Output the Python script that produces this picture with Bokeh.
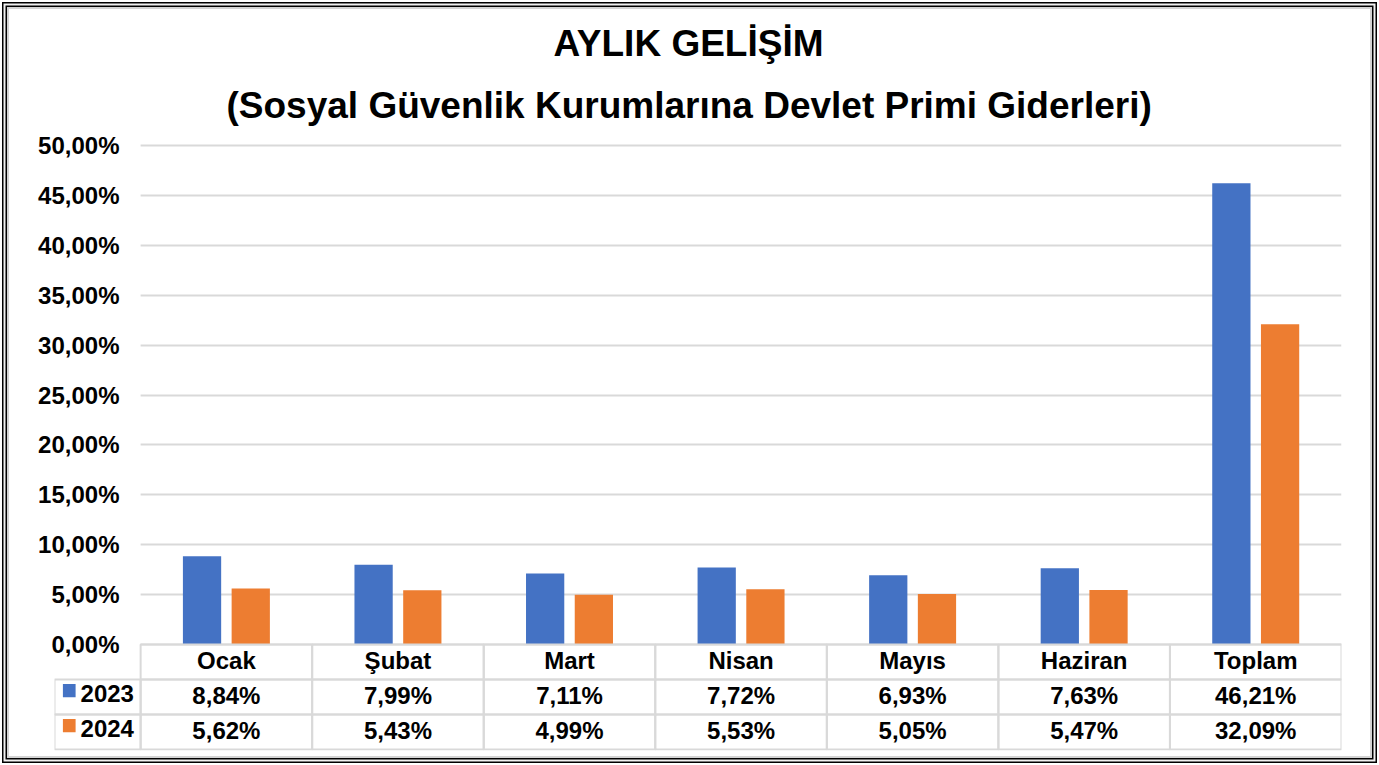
from bokeh.plotting import figure
from bokeh.models import ColumnDataSource, Range1d, FixedTicker, Title
from bokeh.core.properties import value
from bokeh.embed import file_html
from bokeh.resources import INLINE

# ---------------- data ----------------
categories = ["Ocak", "Şubat", "Mart", "Nisan", "Mayıs", "Haziran", "Toplam"]
series_names = ["2023", "2024"]
values_2023 = [8.84, 7.99, 7.11, 7.72, 6.93, 7.63, 46.21]
values_2024 = [5.62, 5.43, 4.99, 5.53, 5.05, 5.47, 32.09]
y_ticks = [0, 5, 10, 15, 20, 25, 30, 35, 40, 45, 50]
y_tick_labels = ["0,00%", "5,00%", "10,00%", "15,00%", "20,00%", "25,00%",
                 "30,00%", "35,00%", "40,00%", "45,00%", "50,00%"]
title_lines = ["AYLIK GELİŞİM", "(Sosyal Güvenlik Kurumlarına Devlet Primi Giderleri)"]

# ---------------- style ----------------
BLUE = "#4472C4"
ORANGE = "#ED7D31"
GRID = "#d9d9d9"
FONT = "Liberation Sans"
ROW_H = 3.507      # table row height in axis units (35 px)
LEG_W = 0.502      # width of the legend column (in category units)
OFF = 0.142        # bar offset from category centre
BAR_W = 0.223


def fmt(v):
    return f"{v:.2f}".replace(".", ",") + "%"


n = len(categories)
centers = [i + 0.5 for i in range(n)]          # category centres on the x scale
src = ColumnDataSource(dict(
    x23=[c - OFF for c in centers], x24=[c + OFF for c in centers],
    v2023=values_2023, v2024=values_2024))

p = figure(width=1379, height=765, x_range=Range1d(-LEG_W, n), y_range=Range1d(-10.62, 50.2),
           output_backend="svg", toolbar_location=None, title=None,
           min_border_left=54, min_border_right=38, min_border_top=143, min_border_bottom=15)
p.outline_line_color = None
p.background_fill_color = "white"
p.border_fill_color = None
p.styles = {"background-color": "white",
            "box-shadow": ("inset 0 0 0 2px #fff, inset 0 0 0 3.5px #000, "
                           "inset 0 0 0 5.5px #f0f0f0, inset 0 0 0 7px #000, "
                           "inset 0 0 0 9px #d4d4d4")}

# title: two lines (the Title added last sits on top)
p.add_layout(Title(text=title_lines[1], align="left", offset=172, standoff=35,
                   text_font=FONT, text_font_size="37px", text_font_style="bold",
                   text_color="black"), "above")
p.add_layout(Title(text=title_lines[0], align="left", offset=499, standoff=3,
                   text_font=FONT, text_font_size="37px", text_font_style="bold",
                   text_color="black"), "above")

# y axis (labels pulled into the area left of the plot body)
p.yaxis.ticker = FixedTicker(ticks=y_ticks)
p.yaxis.major_label_overrides = {t_: l for t_, l in zip(y_ticks, y_tick_labels)}
p.yaxis.axis_line_color = None
p.yaxis.major_tick_line_color = None
p.yaxis.minor_tick_line_color = None
p.yaxis.major_tick_out = 0
p.yaxis.major_tick_in = 0
p.yaxis.major_label_standoff = -65
p.yaxis.major_label_text_font = FONT
p.yaxis.major_label_text_font_style = "bold"
p.yaxis.major_label_text_font_size = "24px"
p.yaxis.major_label_text_color = "black"
p.xaxis.visible = False
p.xgrid.grid_line_color = None
p.ygrid.grid_line_color = GRID
p.ygrid.grid_line_width = 2

# white mask: no gridlines over the legend column
p.quad(left=[-LEG_W], right=[0], bottom=[-ROW_H], top=[50.2], fill_color="white",
       line_color=None)

# bars
p.vbar(x="x23", top="v2023", width=BAR_W, source=src, fill_color=BLUE, line_color=None)
p.vbar(x="x24", top="v2024", width=BAR_W, source=src, fill_color=ORANGE, line_color=None)

# data table below zero
row_centers = [-ROW_H * 0.5, -ROW_H * 1.5, -ROW_H * 2.5]
cell_src = ColumnDataSource(dict(
    x=centers * 3,
    y=[row_centers[0]] * n + [row_centers[1]] * n + [row_centers[2]] * n,
    ty=[row_centers[0] + 0.13] * n + [row_centers[1] + 0.13] * n + [row_centers[2] + 0.13] * n,
    text=categories + [fmt(v) for v in values_2023] + [fmt(v) for v in values_2024],
))
p.rect(x="x", y="y", width=1, height=ROW_H, source=cell_src, fill_color=None,
       line_color=GRID, line_width=2)
p.text(x="x", y="ty", text="text", source=cell_src, text_align="center",
       text_baseline="middle", text_font=value(FONT), text_font_style="bold",
       text_font_size="24px", text_color="black")

# legend column of the table
leg_src = ColumnDataSource(dict(
    name=series_names, color=[BLUE, ORANGE],
    y=row_centers[1:], ty=[y + 0.33 for y in row_centers[1:]],
    sq_top=[-ROW_H * (i + 1) - 0.45 for i in range(2)],
    sq_bot=[-ROW_H * (i + 1) - 1.78 for i in range(2)],
))
p.rect(x=-LEG_W / 2, y="y", width=LEG_W, height=ROW_H, source=leg_src, fill_color=None,
       line_color=GRID, line_width=2)
p.quad(left=-0.453, right=-0.379, top="sq_top", bottom="sq_bot", source=leg_src,
       fill_color="color", line_color=None)
p.text(x=-0.35, y="ty", text="name", source=leg_src, text_align="left",
       text_baseline="middle", text_font=value(FONT), text_font_style="bold",
       text_font_size="24px", text_color="black")

open("out.html", "w").write(file_html(p, INLINE))
